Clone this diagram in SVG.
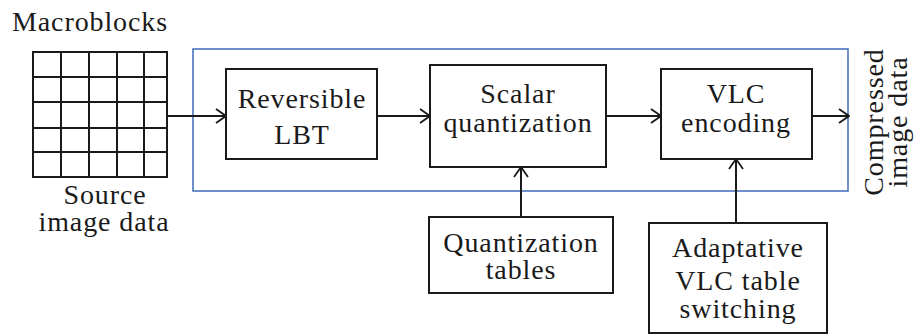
<svg xmlns="http://www.w3.org/2000/svg" width="920" height="335" viewBox="0 0 920 335">
  <style>
    .box { fill: #ffffff; stroke: #1a1a1a; stroke-width: 2; }
    .grid { fill: none; stroke: #1a1a1a; stroke-width: 2; }
    .frame { fill: none; stroke: #4a72c0; stroke-width: 1.6; }
    .wire { fill: none; stroke: #1a1a1a; stroke-width: 2; }
    .lbl { font-family: 'Liberation Serif', serif; font-size: 28px; letter-spacing: 0.9px; fill: #1a1a1a; text-anchor: middle; }
  </style>
  <defs>
    <marker id="arrow" viewBox="0 0 12 16" refX="11" refY="8" markerWidth="12" markerHeight="16" markerUnits="userSpaceOnUse" orient="auto">
      <path d="M1,1 L11,8 L1,15" fill="none" stroke="#1a1a1a" stroke-width="1.8"/>
    </marker>
  </defs>

  <!-- encoder boundary -->
  <rect class="frame" x="193" y="49" width="655" height="142"/>

  <!-- source macroblock grid -->
  <g id="macroblocks">
    <text class="lbl" x="90" y="31">Macroblocks</text>
    <rect class="grid" x="33" y="52" width="134" height="125"/>
    <path class="grid" d="M61,52 V177 M89,52 V177 M117,52 V177 M144,52 V177 M33,77 H167 M33,102 H167 M33,128 H167 M33,152 H167"/>
    <text class="lbl" x="105" y="204">Source</text>
    <text class="lbl" x="104" y="231">image data</text>
  </g>

  <g id="lbt">
    <rect class="box" x="226" y="69" width="151" height="90"/>
    <text class="lbl" x="302" y="108">Reversible</text>
    <text class="lbl" x="302" y="144">LBT</text>
  </g>

  <g id="quantizer">
    <rect class="box" x="430" y="65" width="176" height="102"/>
    <text class="lbl" x="518" y="103">Scalar</text>
    <text class="lbl" x="518" y="132">quantization</text>
  </g>

  <g id="vlc">
    <rect class="box" x="661" y="69" width="151" height="90"/>
    <text class="lbl" x="736" y="103">VLC</text>
    <text class="lbl" x="736" y="132">encoding</text>
  </g>

  <g id="qtables">
    <rect class="box" x="429" y="217" width="184" height="76"/>
    <text class="lbl" x="521" y="252">Quantization</text>
    <text class="lbl" x="521" y="279">tables</text>
  </g>

  <g id="vlc-switch">
    <rect class="box" x="649" y="223" width="178" height="110"/>
    <text class="lbl" x="738" y="257">Adaptative</text>
    <text class="lbl" x="738" y="290">VLC table</text>
    <text class="lbl" x="738" y="318">switching</text>
  </g>

  <g id="output">
    <text class="lbl" transform="translate(883,122) rotate(-90)">Compressed</text>
    <text class="lbl" transform="translate(907,122) rotate(-90)">image data</text>
  </g>

  <!-- data flow -->
  <g id="connectors">
    <line class="wire" x1="167" y1="116" x2="226" y2="116" marker-end="url(#arrow)"/>
    <line class="wire" x1="377" y1="116" x2="430" y2="116" marker-end="url(#arrow)"/>
    <line class="wire" x1="606" y1="116" x2="661" y2="116" marker-end="url(#arrow)"/>
    <line class="wire" x1="812" y1="116" x2="849" y2="116" marker-end="url(#arrow)"/>
    <line class="wire" x1="521" y1="217" x2="521" y2="167" marker-end="url(#arrow)"/>
    <line class="wire" x1="736" y1="223" x2="736" y2="159" marker-end="url(#arrow)"/>
  </g>
</svg>
